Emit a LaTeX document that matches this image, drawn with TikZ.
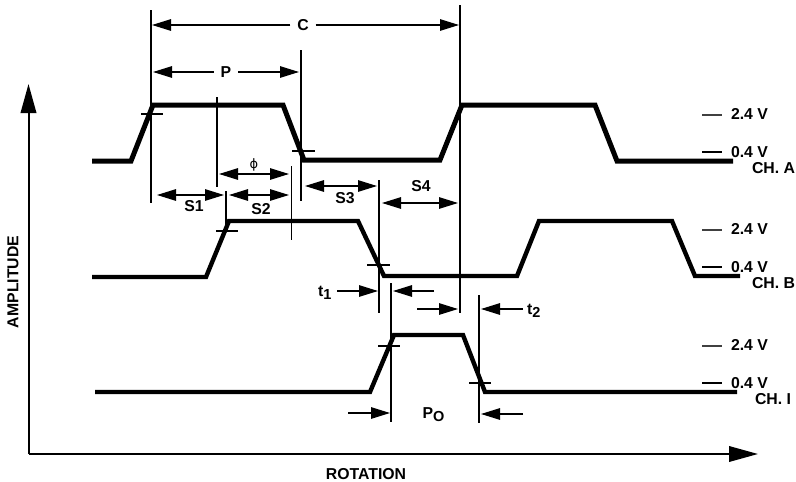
\documentclass[tikz,border=0pt]{standalone}
\usepackage{fontspec}
\setmainfont{Liberation Sans}
\usetikzlibrary{arrows.meta}
\tikzset{
  wave/.style={line width=5pt,line join=miter},
  thin line/.style={line width=1.2pt},
  dim/.style={line width=1.2pt,-{Triangle[length=19pt,width=11.5pt]},shorten >=0pt},
  axis/.style={line width=2pt,-{Triangle[length=29pt,width=15.5pt]}},
  lbl/.style={font=\bfseries\fontsize{15.8}{18}\selectfont,inner sep=0pt,outer sep=0pt},
  gap/.style={lbl,inner xsep=7pt},
  level/.style={lbl,anchor=west},
  subl/.style={lbl,anchor=base west},
  lvltick/.style={line width=1.2pt,black!75}
}
\newcommand{\subbf}[1]{\raisebox{-3pt}{\fontsize{14.5}{16}\selectfont #1}}
\begin{document}
\begin{tikzpicture}[x=1pt,y=-1pt]
\useasboundingbox (0,0) rectangle (796,482);
% axes
\coordinate (o) at (28.5,454);
\coordinate (yt) at (28.5,84);
\coordinate (xt) at (758,454);
\draw[axis] (o) -- (yt);
\draw[axis] (o) -- (xt);
\node[lbl,rotate=90] (amp) at (13,282) {AMPLITUDE};
\node[lbl] (rot) at (366,474) {ROTATION};
% waveforms
\draw[wave] (92,161) -- (131,161) -- (153,105) -- (283,105) -- (304,160) -- (440,160) -- (462,105) -- (595,105) -- (617,161) -- (733,161);
\draw[wave,line width=4.4pt] (92,277) -- (206,277) -- (229,221) -- (358,221) -- (384,276) -- (517,276) -- (539,221) -- (672,221) -- (695,276) -- (740,276);
\draw[wave,line width=4.4pt] (95,392) -- (370,392) -- (394,335) -- (463,335) -- (485,392) -- (737,392);
% crossing ticks
\draw[thin line] (141,114) -- (163,114);
\draw[thin line] (292,151) -- (315,151);
\draw[thin line] (216,231) -- (238,231);
\draw[thin line] (367,265) -- (390,265);
\draw[thin line] (378,346) -- (400,346);
\draw[thin line] (469,383) -- (491,383);
% extension lines
\coordinate (c1a) at (151,10);  \coordinate (c1b) at (151,203);
\coordinate (c2a) at (460,5);   \coordinate (c2b) at (460,313);
\coordinate (c3a) at (301,50);  \coordinate (c3b) at (301,201);
\coordinate (c4a) at (217,97);  \coordinate (c4b) at (217,187);
\coordinate (c5a) at (226,191); \coordinate (c5b) at (226,231);
\coordinate (c6a) at (291.5,166); \coordinate (c6b) at (291.5,240);
\coordinate (c7a) at (379,180); \coordinate (c7b) at (379,313);
\coordinate (c8a) at (391,283); \coordinate (c8b) at (391,422);
\coordinate (c9a) at (479,295); \coordinate (c9b) at (479,423);
\foreach \n in {1,...,9} \draw[thin line] (c\n a) -- (c\n b);
% C and P
\node[gap] (C) at (303,25) {C};
\coordinate (Cl) at (152,25); \coordinate (Cr) at (459,25);
\draw[dim] (C) -- (Cl); \draw[dim] (C) -- (Cr);
\node[gap] (P) at (226,72) {P};
\coordinate (Pl) at (153,72); \coordinate (Pr) at (299,72);
\draw[dim] (P) -- (Pl); \draw[dim] (P) -- (Pr);
% phi
\coordinate (phm) at (254,174); \coordinate (phl) at (219,174); \coordinate (phr) at (289,174);
\draw[dim] (phm) -- (phl); \draw[dim] (phm) -- (phr);
\node[inner sep=0pt,font=\fontsize{13}{14}\selectfont] (phi) at (254,165) {\fontspec{DejaVu Sans}\symbol{"03D5}};
% S1-S4
\coordinate (s1m) at (190,195); \coordinate (s1l) at (157,195); \coordinate (s1r) at (224,195);
\draw[dim] (s1m) -- (s1l); \draw[dim] (s1m) -- (s1r);
\node[lbl] (S1) at (194,206) {S1};
\coordinate (s2m) at (259,195); \coordinate (s2l) at (229,195); \coordinate (s2r) at (289,195);
\draw[dim] (s2m) -- (s2l); \draw[dim] (s2m) -- (s2r);
\node[lbl] (S2) at (261,209) {S2};
\coordinate (s3m) at (341,186); \coordinate (s3l) at (305,186); \coordinate (s3r) at (377,186);
\draw[dim] (s3m) -- (s3l); \draw[dim] (s3m) -- (s3r);
\node[lbl] (S3) at (345,198) {S3};
\coordinate (s4m) at (420,203); \coordinate (s4l) at (382,203); \coordinate (s4r) at (458,203);
\draw[dim] (s4m) -- (s4l); \draw[dim] (s4m) -- (s4r);
\node[lbl] (S4) at (421,186) {S4};
% t1, t2
\node[subl] (t1) at (318,296) {t\subbf{1}};
\coordinate (a1s) at (337,291); \coordinate (a1e) at (378,291);
\draw[dim] (a1s) -- (a1e);
\coordinate (a2s) at (434,291); \coordinate (a2e) at (393,291);
\draw[dim] (a2s) -- (a2e);
\coordinate (a3s) at (417,309); \coordinate (a3e) at (458,309);
\draw[dim] (a3s) -- (a3e);
\coordinate (a4s) at (523,309); \coordinate (a4e) at (481,309);
\draw[dim] (a4s) -- (a4e);
\node[subl] (t2) at (527,314) {t\subbf{2}};
% Po
\coordinate (a5s) at (348,413); \coordinate (a5e) at (390,413);
\draw[dim] (a5s) -- (a5e);
\coordinate (a6s) at (523,414); \coordinate (a6e) at (481,414);
\draw[dim] (a6s) -- (a6e);
\node[subl] (Po) at (422.5,418.5) {P\subbf{O}};
% levels
\foreach \nm/\y/\ch/\cy/\cx in {a/115/CH. A/168/752, b/230/CH. B/283/752, i/346/CH. I/399/755}{
  \draw[lvltick] (702,\y) -- (722,\y);
  \node[level] (hi\nm) at (731,\y-1) {2.4 V};
  \pgfmathsetmacro{\yy}{\cy-16}
  \draw[thin line] (702,\yy) -- (722,\yy);
  \node[level] (lo\nm) at (731,\yy) {0.4 V};
  \node[level] (ch\nm) at (\cx,\cy) {\ch};
}
\end{tikzpicture}
\end{document}
